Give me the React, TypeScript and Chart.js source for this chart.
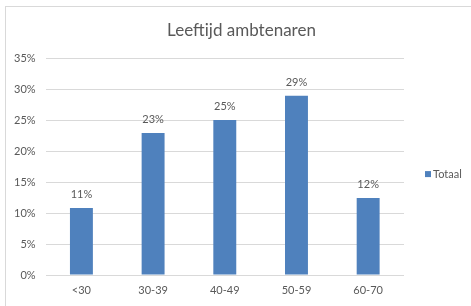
import React, { useEffect, useRef } from "react";
import { Chart, registerables } from "chart.js";

Chart.register(...registerables);

const categories = ["<30", "30-39", "40-49", "50-59", "60-70"];
const values = [10.8, 22.9, 25.0, 28.9, 12.4];
const valueLabels = ["11%", "23%", "25%", "29%", "12%"];
const seriesName = "Totaal";
const chartTitle = "Leeftijd ambtenaren";

const TEXT = "#595959";
const BAR = "#4f81bd";
const GRID = "#d9d9d9";
const FONT = "Lato, 'Open Sans', sans-serif";

const dataLabelPlugin = {
  id: "dataLabels",
  afterDatasetsDraw(chart: any) {
    const ctx = chart.ctx;
    const meta = chart.getDatasetMeta(0);
    ctx.save();
    ctx.font = `11px ${FONT}`;
    ctx.fillStyle = TEXT;
    ctx.textAlign = "center";
    ctx.textBaseline = "alphabetic";
    meta.data.forEach((bar: any, i: number) => {
      ctx.fillText(valueLabels[i], bar.x, bar.y - 10);
    });
    ctx.restore();
  },
};

const titlePlugin = {
  id: "centerTitle",
  afterDraw(chart: any) {
    const ctx = chart.ctx;
    ctx.save();
    ctx.font = `17px ${FONT}`;
    ctx.fillStyle = TEXT;
    ctx.textAlign = "center";
    ctx.textBaseline = "middle";
    ctx.fillText(chartTitle, chart.width / 2 + 6, 31);
    ctx.restore();
  },
};

const sideLegendPlugin = {
  id: "sideLegend",
  afterDraw(chart: any) {
    const ctx = chart.ctx;
    const area = chart.chartArea;
    const ds = chart.data.datasets[0];
    const x = area.right + 21;
    const y = area.top + (area.bottom - area.top) * 0.535;
    ctx.save();
    ctx.fillStyle = ds.backgroundColor;
    ctx.fillRect(x, y - 3, 6, 6);
    ctx.font = `11px ${FONT}`;
    ctx.fillStyle = TEXT;
    ctx.textAlign = "left";
    ctx.textBaseline = "middle";
    ctx.fillText(ds.label, x + 8, y + 0.5);
    ctx.restore();
  },
};

export default function App() {
  const ref = useRef<HTMLCanvasElement>(null);

  useEffect(() => {
    if (!ref.current) return;
    const chart = new Chart(ref.current, {
      type: "bar",
      data: {
        labels: categories,
        datasets: [
          {
            label: seriesName,
            data: values,
            backgroundColor: BAR,
            borderWidth: 0,
            categoryPercentage: 1,
            barPercentage: 0.32,
          },
        ],
      },
      options: {
        responsive: false,
        animation: false,
        layout: { padding: { left: 4, right: 67, top: 58, bottom: 0 } },
        plugins: {
          legend: { display: false },
          tooltip: { enabled: false },
          title: { display: false },
        },
        scales: {
          x: {
            grid: { display: false, drawTicks: false },
            border: { display: false },
            ticks: { color: TEXT, font: { family: FONT, size: 11, lineHeight: 1 }, padding: 10 },
          },
          y: {
            min: 0,
            max: 35,
            grid: { color: GRID, drawTicks: false },
            border: { display: false },
            ticks: {
              stepSize: 5,
              color: TEXT,
              font: { family: FONT, size: 11 },
              padding: 10,
              callback: (v: any) => `${v}%`,
            },
          },
        },
      },
      plugins: [dataLabelPlugin, titlePlugin, sideLegendPlugin],
    });
    return () => chart.destroy();
  }, []);

  return (
    <div style={{ position: "fixed", left: 0, top: 0, width: 471, height: 306, overflow: "hidden", background: "#fff" }}>
      <div
        style={{
          position: "absolute",
          left: 5,
          top: 6,
          width: 500,
          height: 340,
          border: "1px solid #d9d9d9",
        }}
      />
      <canvas ref={ref} width={471} height={306} style={{ position: "absolute", left: 0, top: 0 }} />
    </div>
  );
}
